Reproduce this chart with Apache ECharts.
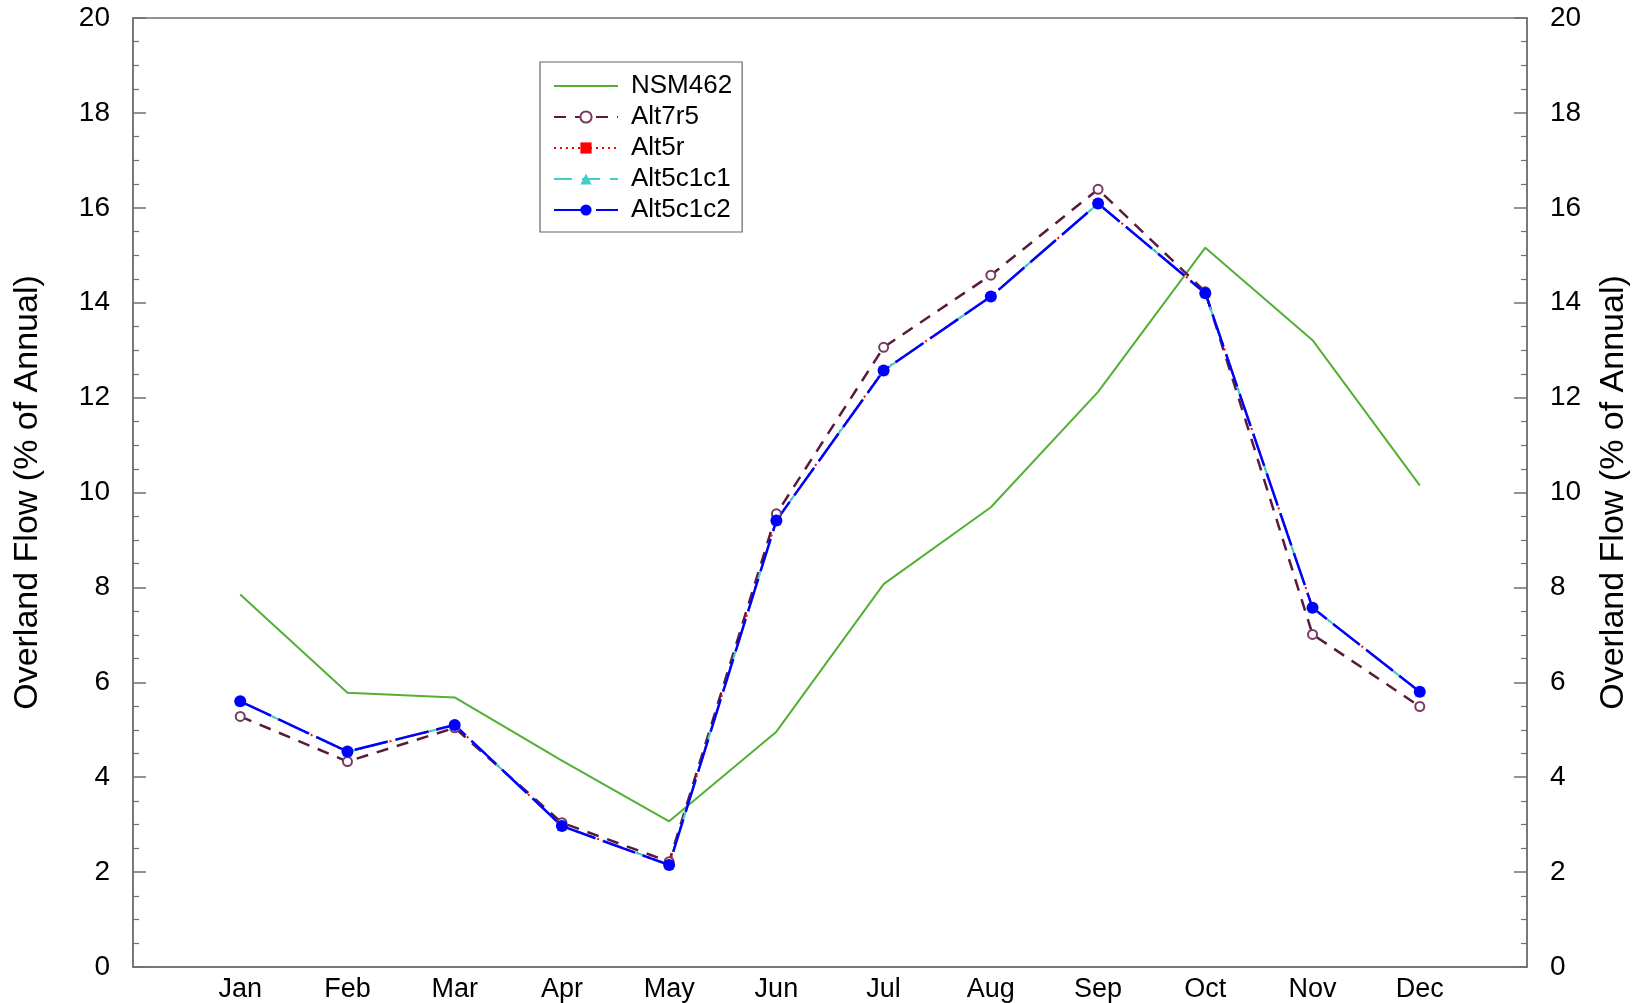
<!DOCTYPE html>
<html>
<head>
<meta charset="utf-8">
<script src="https://cdn.jsdelivr.net/npm/echarts@6/dist/echarts.min.js"></script>
<style>
html,body{margin:0;padding:0;background:#fff;}
#chart{width:1643px;height:1003px;}
</style>
</head>
<body>
<div id="chart"></div>
<script>
var months = ['Jan','Feb','Mar','Apr','May','Jun','Jul','Aug','Sep','Oct','Nov','Dec'];
var yTicks = [0,2,4,6,8,10,12,14,16,18,20];
var nsm462   = [7.85, 5.78, 5.68, 4.35, 3.07, 4.96, 8.07, 9.69, 12.12, 15.16, 13.21, 10.15];
var alt7r5   = [5.28, 4.33, 5.04, 3.04, 2.22, 9.55, 13.06, 14.58, 16.39, 14.23, 7.01, 5.49];
var alt5r    = [5.60, 4.53, 5.10, 2.97, 2.16, 9.42, 12.58, 14.13, 16.09, 14.21, 7.57, 5.80];
var alt5c1c1 = [5.60, 4.53, 5.10, 2.97, 2.16, 9.41, 12.57, 14.13, 16.09, 14.20, 7.57, 5.80];
var alt5c1c2 = [5.60, 4.54, 5.10, 2.97, 2.15, 9.41, 12.57, 14.13, 16.09, 14.20, 7.57, 5.80];

// pad one empty slot on each side so months sit one step in from the frame
var cats = [''].concat(months).concat(['']);
function pad(a){ return [null].concat(a).concat([null]); }

var FONT = '"Liberation Sans", Arial, Helvetica, sans-serif';
var axisGrey = '#707070';

function yAxis(pos, gap){
  return {
    type:'value', position:pos, min:0, max:20, interval:2,
    name:'Overland Flow (% of Annual)', nameLocation:'middle', nameGap:gap,
    nameTextStyle:{fontFamily:FONT, fontSize:34, color:'#000'},
    axisLine:{show:true, lineStyle:{color:axisGrey, width:1.5}},
    axisTick:{show:true, inside:true, length:13, lineStyle:{color:axisGrey, width:1.5}},
    minorTick:{show:true, splitNumber:4, length:6, lineStyle:{color:axisGrey, width:1.2}},
    splitLine:{show:false}, minorSplitLine:{show:false},
    axisLabel:{fontFamily:FONT, fontSize:28, color:'#000', margin:23,
      formatter:function(v){ return yTicks.indexOf(v) >= 0 ? String(v) : ''; }}
  };
}

var chart = echarts.init(document.getElementById('chart'));
chart.setOption({
  animation:false,
  backgroundColor:'#fff',
  grid:{left:133, right:116, top:18, bottom:36, show:true, borderColor:axisGrey, borderWidth:1.5, backgroundColor:'transparent'},
  legend:{
    orient:'vertical', left:540, top:62,
    backgroundColor:'#fff', borderColor:'#666', borderWidth:1.2,
    padding:[11,10,9,13], itemWidth:64, itemHeight:14, itemGap:5,
    textStyle:{fontFamily:FONT, fontSize:26, color:'#000', padding:[0,0,0,8]},
    data:[
      {name:'NSM462', itemStyle:{opacity:0}},
      'Alt7r5','Alt5r','Alt5c1c1','Alt5c1c2'
    ]
  },
  xAxis:{
    type:'category', data:cats, boundaryGap:false,
    axisLine:{show:true, lineStyle:{color:axisGrey, width:1.5}},
    axisTick:{show:false},
    axisLabel:{fontFamily:FONT, fontSize:27, color:'#000', margin:9, interval:0},
    splitLine:{show:false}
  },
  yAxis:[yAxis('left', 88), yAxis('right', 70)],
  series:[
    {name:'NSM462', type:'line', data:pad(nsm462), showSymbol:false, symbol:'none',
      lineStyle:{color:'#52B036', width:2}, itemStyle:{color:'#52B036'}},
    {name:'Alt7r5', type:'line', data:pad(alt7r5), symbol:'emptyCircle', symbolSize:9,
      lineStyle:{color:'#5A1A3E', width:2.5, type:[12,9]},
      itemStyle:{color:'#7A3A62', borderColor:'#7A3A62', borderWidth:1.3}},
    {name:'Alt5r', type:'line', data:pad(alt5r), symbol:'rect', symbolSize:7,
      lineStyle:{color:'#FF0000', width:2, type:[2,4]}, itemStyle:{color:'#FF0000'}},
    {name:'Alt5c1c1', type:'line', data:pad(alt5c1c1), symbol:'triangle', symbolSize:10,
      lineStyle:{color:'#40CFC4', width:2, type:[18,10]}, itemStyle:{color:'#40CFC4'}},
    {name:'Alt5c1c2', type:'line', data:pad(alt5c1c2), symbol:'circle', symbolSize:12,
      lineStyle:{color:'#0000FF', width:2.5, type:[34,8]}, itemStyle:{color:'#0000FF'}}
  ]
});
</script>
</body>
</html>
